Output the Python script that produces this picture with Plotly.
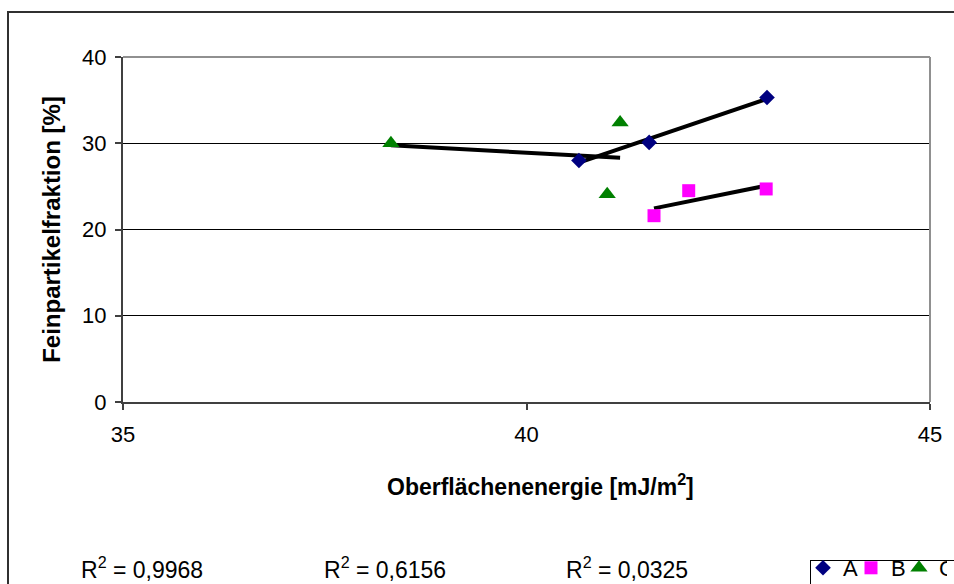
import numpy as np
import plotly.graph_objects as go

# ---- data ----
series_names = ["A", "B", "C"]
a_x = [40.65, 41.52, 42.98]
a_y = [28.0, 30.1, 35.3]
b_x = [41.58, 42.01, 42.97]
b_y = [21.6, 24.5, 24.7]
c_x = [38.32, 41.16, 41.00]
c_y = [30.0, 32.4, 24.1]
r2_labels = ["R<sup>2</sup> = 0,9968", "R<sup>2</sup> = 0,6156", "R<sup>2</sup> = 0,0325"]
x_ticks = [35, 40, 45]
y_ticks = [0, 10, 20, 30, 40]
x_title = "Oberflächenenergie [mJ/m<sup>2</sup>]"
y_title = "Feinpartikelfraktion [%]"

colors = ["#000080", "#FF00FF", "#008000"]
symbols = ["diamond", "square", "triangle-up"]
sizes = [12, 13, 15]

W, H = 954, 584
OFF = 0  # body margin removed via post_script
# desired on-screen plot area: x 123..930, y 57..402
SL, ST, SR, SB = 123, 57, 930, 402
pw, ph = SR - SL, SB - ST
L, T = SL - OFF, ST - OFF
R, B = W - L - pw, H - T - ph
FONT = "Liberation Sans, Arial, sans-serif"

def px_x(p):  # screen px -> paper
    return (p - SL) / pw

def px_y(p):
    return (SB - p) / ph

fig = go.Figure()
all_series = [(a_x, a_y), (b_x, b_y), (c_x, c_y)]

# linear trend lines
for (xs, ys) in all_series:
    k, d = np.polyfit(xs, ys, 1)
    xe = np.array([min(xs), max(xs)])
    fig.add_trace(go.Scatter(x=xe, y=k * xe + d, mode="lines",
                             line=dict(color="black", width=4),
                             showlegend=False, hoverinfo="skip"))

for i, (xs, ys) in enumerate(all_series):
    fig.add_trace(go.Scatter(x=xs, y=ys, mode="markers", name=series_names[i],
                             marker=dict(symbol=symbols[i], size=sizes[i], color=colors[i],
                                         line=dict(width=0))))

def hline(x0, x1, y, color, w):
    return dict(type="line", xref="paper", yref="paper", x0=px_x(x0), x1=px_x(x1),
                y0=px_y(y), y1=px_y(y), line=dict(color=color, width=w))

def vline(x, y0, y1, color, w):
    return dict(type="line", xref="paper", yref="paper", x0=px_x(x), x1=px_x(x),
                y0=px_y(y0), y1=px_y(y1), line=dict(color=color, width=w))

shapes = [
    # plot area frame (top/right)
    dict(type="line", xref="paper", yref="paper", x0=0, x1=1, y0=1, y1=1,
         line=dict(color="#909090", width=2)),
    dict(type="line", xref="paper", yref="paper", x0=1, x1=1, y0=0, y1=1,
         line=dict(color="#909090", width=2)),
    # outer chart border (top and left visible)
    hline(7, 960, 12, "#303030", 2),
    vline(8, 11, 592, "#303030", 2),
    # legend box (top and left visible)
    hline(810, 960, 560.5, "black", 1),
    vline(810.5, 560, 592, "black", 1),
]

annotations = []
for lab, xp in zip(r2_labels, [79, 322, 564]):
    annotations.append(dict(text=lab, xref="paper", yref="paper", x=px_x(xp), y=px_y(568),
                            xanchor="left", yanchor="middle", showarrow=False,
                            font=dict(family=FONT, size=23, color="black")))
annotations.append(dict(text="<b>" + x_title + "</b>", xref="paper", yref="paper",
                        x=px_x(540), y=px_y(485), xanchor="center", yanchor="middle",
                        showarrow=False, font=dict(family=FONT, size=23, color="black")))

fig.update_layout(
    width=W, height=H,
    margin=dict(l=L, r=R, t=T, b=B, autoexpand=False),
    paper_bgcolor="white", plot_bgcolor="white",
    font=dict(family=FONT, color="black", size=22),
    shapes=shapes, annotations=annotations,
    showlegend=True,
    legend=dict(orientation="h", xref="container", yref="container",
                x=(803 - OFF) / W, y=(H - (547 - OFF)) / H, xanchor="left", yanchor="top",
                borderwidth=0, bgcolor="rgba(0,0,0,0)",
                font=dict(family=FONT, size=22), itemwidth=30, entrywidth=3,
                tracegroupgap=0),
    xaxis=dict(range=[35, 45], tickvals=x_ticks, ticks="outside", ticklen=6,
               tickcolor="#404040", tickwidth=2, ticklabelstandoff=6,
               showline=True, linecolor="#404040", linewidth=2, showgrid=False,
               zeroline=False, tickfont=dict(size=22)),
    yaxis=dict(range=[0, 40], tickvals=y_ticks, ticks="outside", ticklen=6,
               tickcolor="#404040", tickwidth=2, ticklabelstandoff=4,
               showline=True, linecolor="#404040", linewidth=2,
               showgrid=True, gridcolor="black", gridwidth=1, zeroline=False,
               tickfont=dict(size=22),
               title=dict(text="<b>" + y_title + "</b>", font=dict(size=24), standoff=15)),
)

fig.write_html("out.html", config={"displayModeBar": False},
               post_script="document.body.style.margin='0';document.body.style.overflow='hidden';")
